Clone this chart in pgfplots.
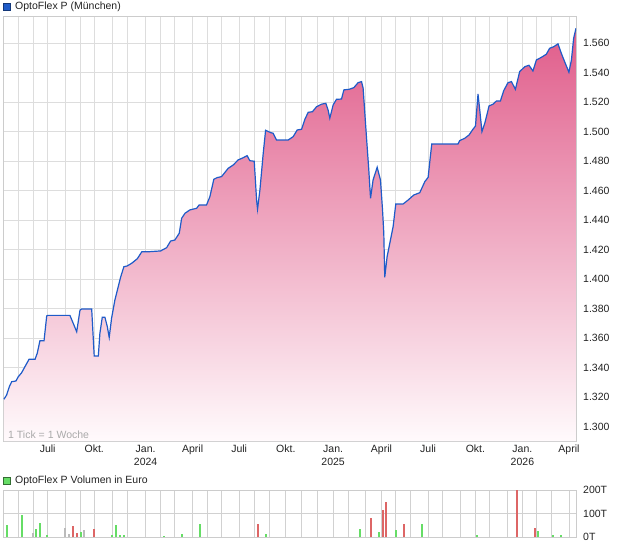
\documentclass[border=0pt]{standalone}
\usepackage{pgfplots}
\usepackage{pgfplotstable}
\pgfplotsset{compat=1.18}
\usepackage{fontspec}
\setmainfont{Liberation Sans}
\definecolor{gridc}{HTML}{DDDDDD}
\definecolor{linec}{HTML}{1F5BC8}
\definecolor{pinktop}{HTML}{E05C8A}
\definecolor{pinkbot}{HTML}{FFFAFC}
\definecolor{volg}{HTML}{66DD66}
\definecolor{volr}{HTML}{DD6666}
\definecolor{volgr}{HTML}{BBBBBB}
\definecolor{bordc}{HTML}{CCCCCC}
\definecolor{notec}{HTML}{AAAAAA}
\definecolor{txtc}{HTML}{222222}

\pgfplotstableread{
m v
3.21 1318.6
3.38 1321.5
3.55 1327.1
3.70 1330.5
3.97 1331.0
4.12 1333.9
4.33 1336.6
4.54 1340.7
4.80 1345.7
5.18 1345.7
5.32 1349.8
5.49 1358.3
5.75 1358.3
5.92 1375.1
5.98 1375.5
7.39 1375.5
7.60 1370.1
7.82 1364.4
8.03 1379.1
8.13 1379.8
8.77 1379.8
8.93 1347.9
9.19 1347.9
9.29 1363.3
9.44 1374.2
9.61 1374.2
9.76 1367.8
9.88 1360.6
10.03 1373.5
10.24 1385.9
10.45 1394.9
10.60 1401.3
10.81 1408.5
11.02 1409.0
11.30 1410.8
11.66 1413.9
11.95 1418.7
12.46 1418.7
13.14 1419.2
13.52 1421.4
13.77 1425.9
14.04 1426.6
14.32 1431.2
14.47 1441.3
14.68 1444.7
14.99 1447.0
15.42 1448.1
15.58 1450.4
16.05 1450.4
16.26 1456.0
16.51 1467.8
16.72 1468.9
17.00 1469.6
17.42 1475.2
17.74 1477.5
18.05 1480.9
18.37 1482.4
18.62 1483.8
18.79 1480.4
19.07 1480.0
19.22 1453.7
19.28 1447.6
19.43 1460.5
19.64 1485.4
19.79 1501.0
20.12 1499.4
20.27 1499.0
20.48 1494.4
21.22 1494.4
21.54 1496.7
21.79 1501.2
22.07 1501.7
22.28 1508.5
22.49 1513.2
22.76 1513.6
23.02 1517.0
23.33 1518.7
23.61 1519.3
23.75 1514.8
23.86 1509.2
24.07 1518.2
24.28 1522.0
24.60 1522.2
24.75 1528.4
25.08 1528.8
25.38 1529.9
25.65 1533.3
25.87 1534.0
25.97 1529.5
26.18 1496.7
26.33 1474.1
26.44 1454.9
26.60 1467.3
26.86 1475.9
27.07 1467.3
27.20 1447.0
27.28 1431.2
27.34 1401.3
27.49 1415.3
27.66 1424.4
27.87 1435.6
28.04 1451.0
28.50 1451.0
28.82 1453.7
29.18 1457.1
29.56 1458.7
29.88 1466.2
30.09 1469.1
30.22 1482.2
30.32 1491.7
31.98 1491.7
32.09 1494.0
32.41 1495.6
32.68 1497.8
32.93 1501.7
33.09 1503.9
33.25 1525.6
33.36 1514.8
33.50 1500.1
33.68 1505.8
33.95 1517.5
34.20 1518.7
34.42 1520.9
34.67 1520.9
34.88 1527.9
35.15 1533.3
35.37 1534.0
35.62 1528.8
35.89 1540.8
36.21 1544.1
36.48 1545.1
36.73 1541.2
36.95 1548.7
37.27 1550.5
37.58 1552.6
37.79 1556.6
38.05 1557.7
38.32 1559.6
38.53 1553.2
38.74 1547.5
39.01 1540.4
39.17 1548.7
39.31 1563.4
39.46 1570.2
}\pricedata

\pgfplotsset{
  chartbase/.style={
    scale only axis, width=573pt,
    xmin=3.15, xmax=39.46,
    axis line style={bordc},
    xmajorgrids=true, ymajorgrids=true,
    major grid style={draw=gridc, line width=0.9pt},
    xtick={4.119,5.069,5.981,7.121,8.027,8.932,10.072,11.048,12.187,13.137,14.043,15.164,16.114,17.001,18.115,19.065,20.059,21.073,22.067,23.080,24.068,25.018,26.139,27.134,28.039,28.970,30.085,30.997,32.137,33.087,33.993,35.089,36.064,36.951,37.900,39.015},
    major tick length=0pt,
    yticklabel pos=right,
    yticklabel style={anchor=west, inner sep=0pt, xshift=7pt, text=txtc},
    xticklabel style={align=center, anchor=north, inner sep=0pt, yshift=-4pt, text=txtc},
    /pgf/number format/assume math mode=true,
  }
}

\begin{document}
\begin{tikzpicture}[font=\fontsize{10.5}{13.5}\selectfont]
\useasboundingbox (0,0) rectangle (620pt,-546pt);

\begin{axis}[chartbase,
  at={(3pt,-441pt)}, anchor=south west, height=425pt,
  ymin=1290.3, ymax=1578.5,
  ytick={1300,1320,...,1560},
  yticklabel style={/pgf/number format/.cd, 1000 sep={.}, fixed, precision=0},
  xticklabels={{},{},Juli,{},{},Okt.,{},{},{Jan.\\2024},{},{},April,{},{},Juli,{},{},Okt.,{},{},{Jan.\\2025},{},{},April,{},{},Juli,{},{},Okt.,{},{},{Jan.\\2026},{},{},April},
]
\addplot[draw=none, top color=pinktop, bottom color=pinkbot] table[x=m, y=v] {\pricedata} \closedcycle;
\addplot[linec, line width=1.2pt, mark=none] table[x=m, y=v] {\pricedata};
\end{axis}

\begin{axis}[chartbase,
  at={(3pt,-537pt)}, anchor=south west, height=47pt,
  ymin=0, ymax=200,
  ytick={0,100,200}, yticklabels={0T,100T,200T},
  xticklabel=\empty,
  major grid style={draw=black!18, line width=0.9pt},
]
\addplot[ycomb, volg, line width=2pt, mark=none] coordinates {
(3.39,50) (4.35,93) (5.25,36) (5.50,60) (5.93,7) (8.07,20) (10.08,7) (10.34,50) (10.59,7) (10.81,10) (13.33,3) (14.47,11) (15.63,54) (19.83,11) (25.79,36) (26.95,20) (28.08,31) (29.69,54) (33.19,7) (37.07,24) (38.03,7) (38.51,7)};
\addplot[ycomb, volr, line width=2pt, mark=none] coordinates {
(7.61,46) (7.82,17) (8.93,33) (19.32,54) (26.50,79) (27.20,117) (27.41,151) (28.54,54) (35.73,200) (36.89,40)};
\addplot[ycomb, volgr, line width=2pt, mark=none] coordinates {
(5.05,17) (7.06,40) (7.32,11) (8.30,31)};
\end{axis}

\filldraw[fill=linec, draw=linec!60!black, line width=0.6pt] (3.5pt,-3.5pt) rectangle (10.5pt,-10.5pt);
\node[anchor=west, inner sep=0pt, text=txtc] at (15pt,-7pt) {OptoFlex P (München)};
\node[anchor=west, inner sep=0pt, text=notec] at (8pt,-435pt) {1 Tick = 1 Woche};
\filldraw[fill=volg, draw=volg!50!black, line width=0.6pt] (3.5pt,-477.5pt) rectangle (10.5pt,-484.5pt);
\node[anchor=west, inner sep=0pt, text=txtc] at (15pt,-481pt) {OptoFlex P Volumen in Euro};
\end{tikzpicture}
\end{document}
